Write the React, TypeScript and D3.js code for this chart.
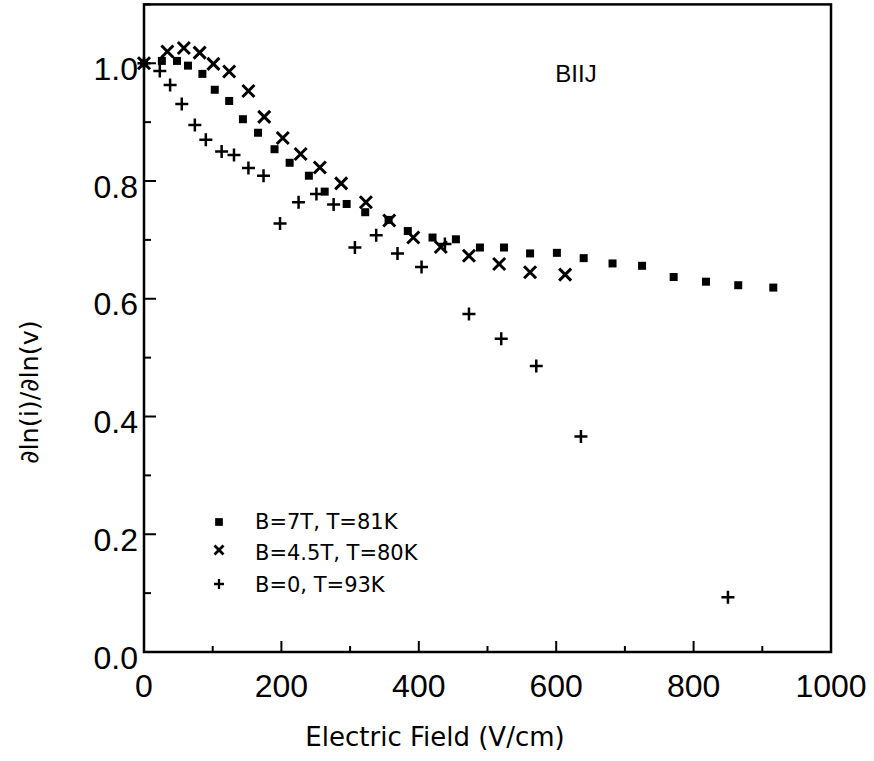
import React from 'react';
import * as d3 from 'd3';

// B=7T, T=81K (squares)
const sqX = [0, 26, 48, 64, 85, 103, 124, 144, 166, 190, 212, 240, 263, 295, 322, 356, 384, 420, 454, 489, 524, 562, 601, 640, 682, 725, 771, 818, 865, 916];
const sqY = [1.0, 1.004, 1.004, 0.996, 0.982, 0.955, 0.936, 0.905, 0.882, 0.854, 0.831, 0.809, 0.782, 0.761, 0.747, 0.734, 0.715, 0.704, 0.701, 0.687, 0.687, 0.677, 0.678, 0.669, 0.66, 0.656, 0.637, 0.629, 0.623, 0.619];

// B=4.5T, T=80K (crosses)
const xxX = [0, 34, 58, 81, 101, 124, 152, 175, 202, 228, 256, 287, 323, 357, 392, 432, 473, 517, 562, 613];
const xxY = [1.0, 1.02, 1.026, 1.018, 0.999, 0.986, 0.953, 0.909, 0.873, 0.846, 0.823, 0.796, 0.764, 0.733, 0.704, 0.688, 0.673, 0.659, 0.645, 0.641];

// B=0, T=93K (plus)
const plX = [0, 23, 38, 55, 74, 90, 113, 131, 152, 174, 198, 225, 251, 276, 307, 338, 369, 404, 438, 473, 520, 571, 636, 850];
const plY = [1.0, 0.987, 0.963, 0.931, 0.895, 0.87, 0.85, 0.844, 0.822, 0.809, 0.728, 0.764, 0.778, 0.76, 0.687, 0.708, 0.677, 0.654, 0.693, 0.574, 0.532, 0.486, 0.366, 0.093];

const xTicks = [0, 200, 400, 600, 800, 1000];
const yTicks = [0, 0.2, 0.4, 0.6, 0.8, 1.0];
const legendLabels = ['B=7T, T=81K', 'B=4.5T, T=80K', 'B=0, T=93K'];

const W = 874, H = 761;
const L = 144, R = 831, T = 4.4, B = 652;

export default function App() {
  const x = d3.scaleLinear().domain([0, 1000]).range([L, R]);
  const y = d3.scaleLinear().domain([0, 1.1]).range([B, T]);
  const minorX = d3.range(0, 1001, 100);
  const minorY = d3.range(0, 1.1001, 0.1);
  const font = "'Liberation Sans', Arial, Helvetica, sans-serif";
  const font2 = "'DejaVu Sans', Verdana, sans-serif";

  const square = (cx: number, cy: number, s: number, k: string) => (
    <rect key={k} x={cx - s / 2} y={cy - s / 2} width={s} height={s} fill="#000" />
  );
  const cross = (cx: number, cy: number, s: number, sw: number, k: string) => (
    <path key={k} d={`M${cx - s / 2},${cy - s / 2}L${cx + s / 2},${cy + s / 2}M${cx - s / 2},${cy + s / 2}L${cx + s / 2},${cy - s / 2}`} stroke="#000" strokeWidth={sw} fill="none" />
  );
  const plus = (cx: number, cy: number, s: number, sw: number, k: string) => (
    <path key={k} d={`M${cx - s / 2},${cy}L${cx + s / 2},${cy}M${cx},${cy - s / 2}L${cx},${cy + s / 2}`} stroke="#000" strokeWidth={sw} fill="none" />
  );

  return (
    <svg width={W} height={H} style={{ position: 'absolute', left: 0, top: 0, background: '#fff' }}>
      <rect x={0} y={0} width={W} height={H} fill="#fff" />
      {minorX.map((v) => {
        const major = v % 200 === 0;
        return <line key={'tx' + v} x1={x(v)} x2={x(v)} y1={B} y2={B - (major ? 11 : 6)} stroke="#000" strokeWidth={2} />;
      })}
      {minorY.map((v, i) => {
        const major = i % 2 === 0;
        return <line key={'ty' + i} x1={L} x2={L + (major ? 12 : 7)} y1={y(v)} y2={y(v)} stroke="#000" strokeWidth={2} />;
      })}
      <rect x={L} y={T} width={R - L} height={B - T} fill="none" stroke="#000" strokeWidth={2.5} />
      {xTicks.map((v) => (
        <text key={'lx' + v} x={x(v)} y={697} textAnchor="middle" fontFamily={font} fontSize={32}>{v}</text>
      ))}
      {yTicks.map((v) => (
        <text key={'ly' + v} x={138} y={y(v) + 16.5} textAnchor="end" fontFamily={font} fontSize={32}>{v.toFixed(1)}</text>
      ))}
      <text x={435} y={746} textAnchor="middle" fontFamily={font2} fontSize={26}>Electric Field (V/cm)</text>
      <text transform={`translate(38,392) rotate(-90)`} textAnchor="middle" fontFamily={font2} fontSize={25.5}>∂ln(i)/∂ln(v)</text>
      <text x={576} y={82} textAnchor="middle" fontFamily={font} fontSize={24}>BIIJ</text>
      {sqX.map((v, i) => square(x(v), y(sqY[i]), 8, 's' + i))}
      {xxX.map((v, i) => cross(x(v), y(xxY[i]), 12, 3, 'x' + i))}
      {plX.map((v, i) => plus(x(v), y(plY[i]), 13, 2.5, 'p' + i))}
      {square(219, 522, 7.7, 'ls')}
      {cross(219, 550, 9, 2.8, 'lx')}
      {plus(219, 584, 10, 2.3, 'lp')}
      {legendLabels.map((t, i) => (
        <text key={'lg' + i} x={255} y={529 + i * 31.3} fontFamily={font2} fontSize={21}>{t}</text>
      ))}
    </svg>
  );
}
